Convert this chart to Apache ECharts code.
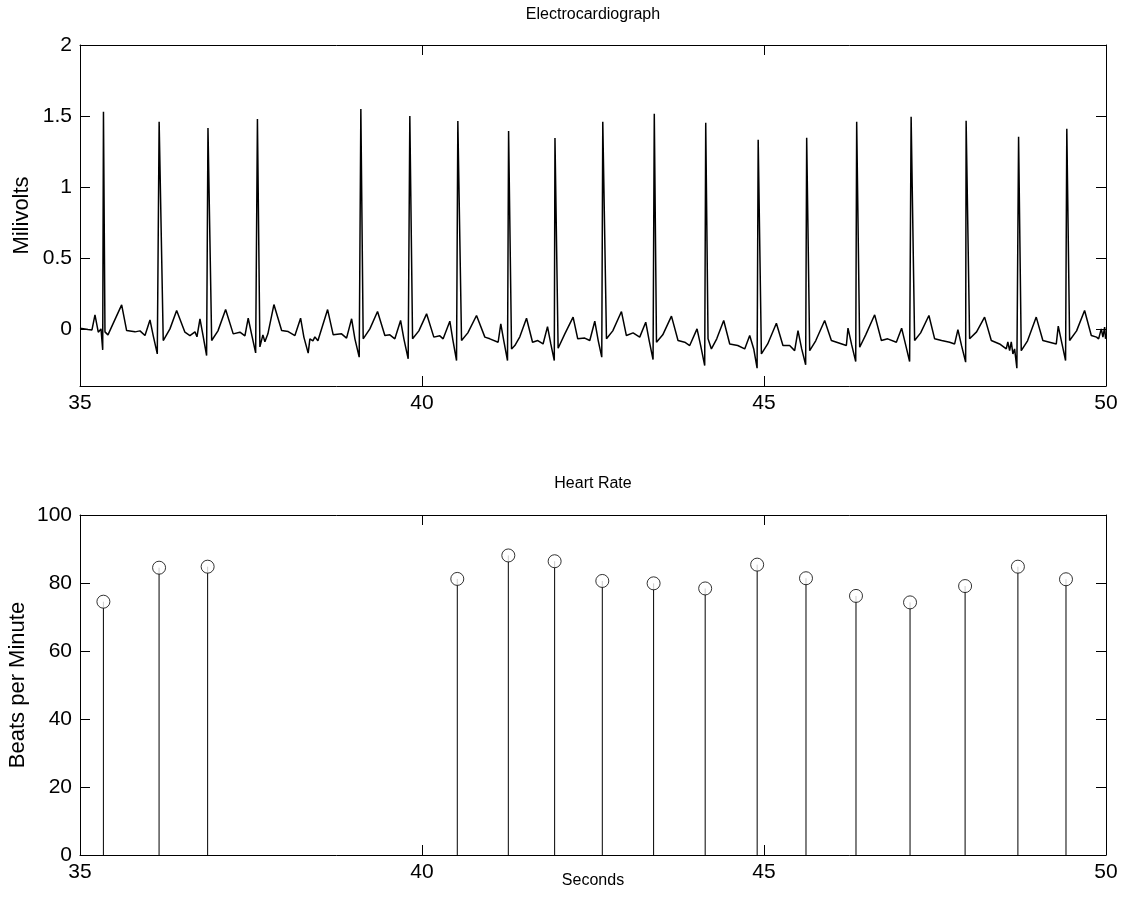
<!DOCTYPE html>
<html><head><meta charset="utf-8">
<script src="https://cdn.jsdelivr.net/npm/echarts@6/dist/echarts.min.js"></script>
<style>html,body{margin:0;padding:0;background:#fff}#c{width:1127px;height:917px}</style>
</head><body><div id="c"></div>
<script>
// ECG trace: [seconds, millivolts]
const ecgTrace = [
[35.000,0.007],[35.117,-0.003],[35.175,-0.005],[35.219,0.10],[35.267,-0.021],[35.307,0.002],[35.332,-0.146],[35.343,1.53],
[35.365,-0.019],[35.409,-0.04],[35.482,0.037],[35.609,0.171],[35.682,-0.01],[35.804,-0.019],[35.877,-0.012],[35.950,-0.045],
[36.023,0.065],[36.071,-0.047],[36.130,-0.174],[36.157,1.46],
[36.217,-0.08],[36.315,0.002],[36.413,0.131],[36.534,-0.021],[36.607,-0.045],[36.681,-0.019],[36.710,-0.054],
[36.754,0.073],[36.797,-0.04],[36.851,-0.186],[36.871,1.415],
[36.925,-0.08],[37.017,-0.012],[37.129,0.138],[37.240,-0.033],[37.338,-0.021],[37.411,-0.047],
[37.459,0.077],[37.514,-0.047],[37.568,-0.167],[37.594,1.48],
[37.630,-0.125],[37.674,-0.04],[37.703,-0.089],[37.747,-0.033],[37.835,0.173],[37.948,-0.01],[38.044,-0.017],[38.142,-0.045],
[38.225,0.077],[38.273,-0.056],[38.336,-0.169],[38.361,-0.068],[38.405,-0.082],[38.434,-0.054],[38.478,-0.082],
[38.620,0.138],[38.702,-0.04],[38.824,-0.033],[38.897,-0.063],
[38.971,0.073],[39.019,-0.068],[39.082,-0.197],[39.106,1.55],
[39.140,-0.068],[39.238,0.002],[39.350,0.124],[39.457,-0.045],[39.530,-0.04],[39.603,-0.068],
[39.687,0.061],[39.735,-0.068],[39.798,-0.209],[39.822,1.50],
[39.862,-0.068],[39.954,-0.012],[40.067,0.108],[40.173,-0.056],[40.261,-0.047],[40.309,-0.068],
[40.407,0.056],[40.451,-0.075],[40.505,-0.221],[40.524,1.465],
[40.578,-0.08],[40.670,-0.026],[40.797,0.096],[40.919,-0.056],[40.992,-0.068],[41.113,-0.092],
[41.152,0.037],[41.196,-0.082],[41.250,-0.221],[41.266,1.395],
[41.309,-0.139],[41.357,-0.115],[41.430,-0.054],[41.528,0.077],[41.616,-0.092],[41.693,-0.08],[41.770,-0.104],
[41.835,0.018],[41.883,-0.104],[41.934,-0.221],[41.944,1.345],
[41.990,-0.134],[42.088,-0.033],[42.209,0.085],[42.277,-0.068],[42.379,-0.063],[42.453,-0.08],
[42.526,0.056],[42.577,-0.082],[42.628,-0.197],[42.643,1.46],
[42.697,-0.068],[42.789,-0.012],[42.916,0.124],[42.988,-0.045],[43.086,-0.026],[43.183,-0.056],
[43.271,0.049],[43.322,-0.082],[43.378,-0.214],[43.396,1.516],
[43.428,-0.092],[43.520,-0.04],[43.647,0.092],[43.743,-0.08],[43.841,-0.092],[43.914,-0.115],
[44.021,0.002],[44.075,-0.118],[44.133,-0.256],[44.148,1.453],
[44.182,-0.068],[44.231,-0.139],[44.309,-0.068],[44.411,0.061],[44.499,-0.104],[44.616,-0.115],[44.718,-0.139],
[44.791,-0.045],[44.850,-0.139],[44.899,-0.275],[44.915,1.333],
[44.962,-0.174],[45.054,-0.104],[45.181,0.042],[45.277,-0.115],[45.375,-0.115],[45.448,-0.151],
[45.497,-0.01],[45.551,-0.139],[45.609,-0.251],[45.624,1.347],
[45.668,-0.151],[45.756,-0.082],[45.887,0.061],[45.985,-0.08],[46.062,-0.092],[46.204,-0.115],
[46.228,0.007],[46.282,-0.111],[46.341,-0.228],[46.355,1.46],
[46.399,-0.127],[46.487,-0.04],[46.618,0.101],[46.716,-0.08],[46.808,-0.068],[46.935,-0.092],
[47.012,0.007],[47.071,-0.111],[47.129,-0.228],[47.151,1.495],
[47.202,-0.08],[47.290,-0.026],[47.411,0.096],[47.495,-0.068],[47.597,-0.08],[47.714,-0.092],[47.787,-0.104],
[47.835,-0.003],[47.889,-0.118],[47.948,-0.232],[47.955,1.467],
[48.006,-0.068],[48.108,-0.019],[48.225,0.085],[48.323,-0.08],[48.444,-0.104],[48.542,-0.139],
[48.565,-0.089],[48.591,-0.151],[48.615,-0.089],[48.639,-0.174],[48.664,-0.139],[48.697,-0.275],[48.722,1.354],
[48.761,-0.151],[48.853,-0.082],[48.980,0.085],[49.077,-0.08],[49.175,-0.092],[49.273,-0.104],
[49.302,0.021],[49.357,-0.104],[49.409,-0.221],[49.427,1.41],
[49.468,-0.08],[49.570,-0.012],[49.687,0.131],[49.785,-0.045],[49.862,-0.056],[49.892,-0.068],
[49.931,0.002],[49.955,-0.056],[49.980,0.014],[49.994,-0.068]
];
const beatSeconds = [35.342,36.156,36.866,40.516,41.262,41.939,42.636,43.386,44.140,44.900,45.614,46.345,47.135,47.940,48.712,49.415];
const heartRateBpm = [74.5,84.5,84.8,81.2,88.1,86.4,80.6,79.9,78.4,85.4,81.4,76.2,74.3,79.1,84.8,81.1];
const secondsTicks = [35,40,45,50];
const mvTicks = [0,0.5,1,1.5,2];
const bpmTicks = [0,20,40,60,80,100];

const FONT = 'Liberation Sans, Arial, Helvetica, sans-serif';
const black = '#000';
const chart = echarts.init(document.getElementById('c'), null, {renderer:'canvas'});

function xAx(grid, pos, showLabels, name){
  return {
    gridIndex:grid, type:'value', position:pos, min:35, max:50, interval:5,
    name: name||'', nameLocation:'middle', nameGap:18, nameMoveOverlap:false,
    nameTextStyle:{color:black,fontFamily:FONT,fontSize:16},
    axisLine:{show:true,onZero:false,lineStyle:{color:black,width:1}},
    axisTick:{show:true,inside:true,length:10,lineStyle:{color:black,width:1}},
    axisLabel:{show:showLabels,color:black,fontFamily:FONT,fontSize:21,margin:7},
    splitLine:{show:false}
  };
}
function yAx(grid, pos, showLabels, min, max, ticks, name, gap){
  return {
    gridIndex:grid, type:'value', position:pos, min:min, max:max,
    name: name||'', nameLocation:'middle', nameGap:gap||50, nameMoveOverlap:false,
    nameTextStyle:{color:black,fontFamily:FONT,fontSize:22},
    axisLine:{show:true,onZero:false,lineStyle:{color:black,width:1}},
    axisTick:{show:true,inside:true,length:10,customValues:ticks,lineStyle:{color:black,width:1}},
    axisLabel:{show:showLabels,customValues:ticks,color:black,fontFamily:FONT,fontSize:21,margin:8},
    splitLine:{show:false}
  };
}

chart.setOption({
  animation:false,
  backgroundColor:'#fff',
  grid:[
    {left:80,right:21,top:45,height:341,containLabel:false,outerBoundsMode:'none'},
    {left:80,right:21,top:515,height:340,containLabel:false,outerBoundsMode:'none'}
  ],
  xAxis:[
    xAx(0,'bottom',true), xAx(0,'top',false),
    xAx(1,'bottom',true,'Seconds'), xAx(1,'top',false)
  ],
  yAxis:[
    yAx(0,'left',true,-0.4,2,mvTicks,'Milivolts',47), yAx(0,'right',false,-0.4,2,mvTicks),
    yAx(1,'left',true,0,100,bpmTicks,'Beats per Minute',51), yAx(1,'right',false,0,100,bpmTicks)
  ],
  graphic:[
    {type:'text',x:593,y:15,style:{text:'Electrocardiograph',fill:black,font:'16px '+FONT,textAlign:'center',textVerticalAlign:'middle'}},
    {type:'text',x:593,y:484,style:{text:'Heart Rate',fill:black,font:'16px '+FONT,textAlign:'center',textVerticalAlign:'middle'}}
  ],
  series:[
    {type:'line',xAxisIndex:0,yAxisIndex:0,data:ecgTrace,showSymbol:false,symbol:'none',
     lineStyle:{color:black,width:1.5},silent:true},
    {type:'custom',xAxisIndex:2,yAxisIndex:2,silent:true,z:2,
     data:beatSeconds.map((t,i)=>[t,heartRateBpm[i]]),
     renderItem:function(params,api){
       const p0=api.coord([api.value(0),0]);
       const p1=api.coord([api.value(0),api.value(1)]);
       return {type:'line',shape:{x1:p0[0],y1:p0[1],x2:p1[0],y2:p1[1]},style:{stroke:black,lineWidth:1}};
     }},
    {type:'scatter',xAxisIndex:2,yAxisIndex:2,z:3,silent:true,
     data:beatSeconds.map((t,i)=>[t,heartRateBpm[i]]),
     symbol:'circle',symbolSize:13,itemStyle:{color:'#fff',borderColor:black,borderWidth:1}}
  ]
});
</script></body></html>
